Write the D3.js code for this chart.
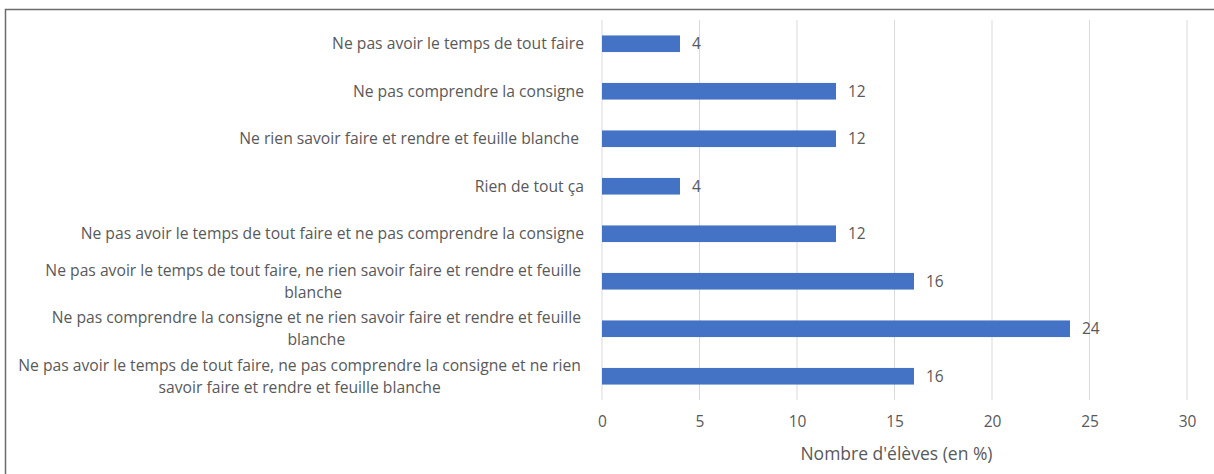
<!DOCTYPE html>
<html>
<head>
<meta charset="utf-8">
<script src="https://cdn.jsdelivr.net/npm/d3@7"></script>
<style>
  body { margin: 0; background: #fff; }
  text { font-family: "Open Sans", sans-serif; fill: #595959; }
</style>
</head>
<body>
<div id="chart"></div>
<script>
// categories, top to bottom
var categories = [
    "Ne pas avoir le temps de tout faire",
    "Ne pas comprendre la consigne",
    "Ne rien savoir faire et rendre et feuille blanche ",
    "Rien de tout ça",
    "Ne pas avoir le temps de tout faire et ne pas comprendre la consigne",
    "Ne pas avoir le temps de tout faire, ne rien savoir faire et rendre et feuille blanche",
    "Ne pas comprendre la consigne et ne rien savoir faire et rendre et feuille blanche",
    "Ne pas avoir le temps de tout faire, ne pas comprendre la consigne et ne rien savoir faire et rendre et feuille blanche"
];
var values = [4, 12, 12, 4, 12, 16, 24, 16];
var xTicks = [0, 5, 10, 15, 20, 25, 30];
var xTitle = "Nombre d'élèves (en %)";

var svgWidth = 1214;
var svgHeight = 474;

var margin = { top: 20, right: 27, bottom: 74, left: 602 };
var width = svgWidth - margin.left - margin.right;
var height = svgHeight - margin.top - margin.bottom;

var labelFont = "15.7px";
var tickFont = "15.5px";

var svg = d3.select("#chart")
    .append("svg")
    .attr("width", svgWidth)
    .attr("height", svgHeight);

// outer frame
svg.append("rect")
    .attr("x", 5.5)
    .attr("y", 9.5)
    .attr("width", 1240)
    .attr("height", 500)
    .attr("fill", "none")
    .attr("stroke", "#6b6b6b")
    .attr("stroke-width", 1.5);

var chartGroup = svg.append("g")
    .attr("transform", `translate(${margin.left}, ${margin.top})`);

var xScale = d3.scaleLinear()
    .domain([0, 30])
    .range([0, width]);

var yScale = d3.scaleBand()
    .domain(categories)
    .range([0, height])
    .paddingInner(0.65)
    .paddingOuter(0.325);

// gridlines
chartGroup.append("g")
    .selectAll("line")
    .data(xTicks)
    .enter()
    .append("line")
    .attr("x1", d => xScale(d))
    .attr("x2", d => xScale(d))
    .attr("y1", 0)
    .attr("y2", height)
    .attr("stroke", "#d9d9d9")
    .attr("stroke-width", 1);

// x axis tick labels
var bottomAxis = d3.axisBottom(xScale)
    .tickValues(xTicks)
    .tickSize(0)
    .tickPadding(16);

var xAxis = chartGroup.append("g")
    .attr("transform", `translate(0, ${height})`)
    .call(bottomAxis);
xAxis.select(".domain").remove();
xAxis.selectAll("text")
    .style("font-size", tickFont)
    .style("font-family", "Open Sans, sans-serif")
    .attr("fill", "#595959");

// bars
chartGroup.selectAll("rect.bar")
    .data(values)
    .enter()
    .append("rect")
    .classed("bar", true)
    .attr("x", xScale(0))
    .attr("y", (d, i) => yScale(categories[i]))
    .attr("width", d => xScale(d) - xScale(0))
    .attr("height", yScale.bandwidth())
    .attr("fill", "#4472c4");

// value labels
chartGroup.selectAll("text.val")
    .data(values)
    .enter()
    .append("text")
    .classed("val", true)
    .attr("x", d => xScale(d) + 12)
    .attr("y", (d, i) => yScale(categories[i]) + yScale.bandwidth() / 2)
    .attr("dy", "0.36em")
    .style("font-size", tickFont)
    .text(d => d);

// category labels, wrapped and centred in a right-aligned block
var maxLineWidth = 572;
var lineHeight = 22;
var labelRight = -18;

var labelGroup = chartGroup.append("g");
categories.forEach(function(cat, i) {
    var g = labelGroup.append("g");
    var probe = g.append("text").style("font-size", labelFont);
    var words = cat.trim().split(" ");
    var lines = [];
    var current = "";
    words.forEach(function(w) {
        var test = current ? current + " " + w : w;
        probe.text(test);
        if (probe.node().getComputedTextLength() > maxLineWidth && current) {
            lines.push(current);
            current = w;
        } else {
            current = test;
        }
    });
    lines.push(current);
    var widths = lines.map(function(l) {
        probe.text(l);
        return probe.node().getComputedTextLength();
    });
    probe.remove();
    var blockWidth = d3.max(widths);
    var cy = yScale(cat) + yScale.bandwidth() / 2;
    var trail = cat !== cat.trim() ? 5 : 0;
    var centerX = labelRight - 3 - blockWidth / 2;
    lines.forEach(function(l, j) {
        g.append("text")
            .attr("x", lines.length > 1 ? centerX : labelRight - trail)
            .attr("y", cy + (j - (lines.length - 1) / 2) * lineHeight)
            .attr("dy", "0.36em")
            .attr("text-anchor", lines.length > 1 ? "middle" : "end")
            .style("font-size", labelFont)
            .text(l);
    });
});

// x axis title
chartGroup.append("text")
    .attr("x", width / 2 + 2)
    .attr("y", height + 54)
    .attr("dy", "0.36em")
    .attr("text-anchor", "middle")
    .style("font-size", "17.5px")
    .text(xTitle);
</script>
</body>
</html>
